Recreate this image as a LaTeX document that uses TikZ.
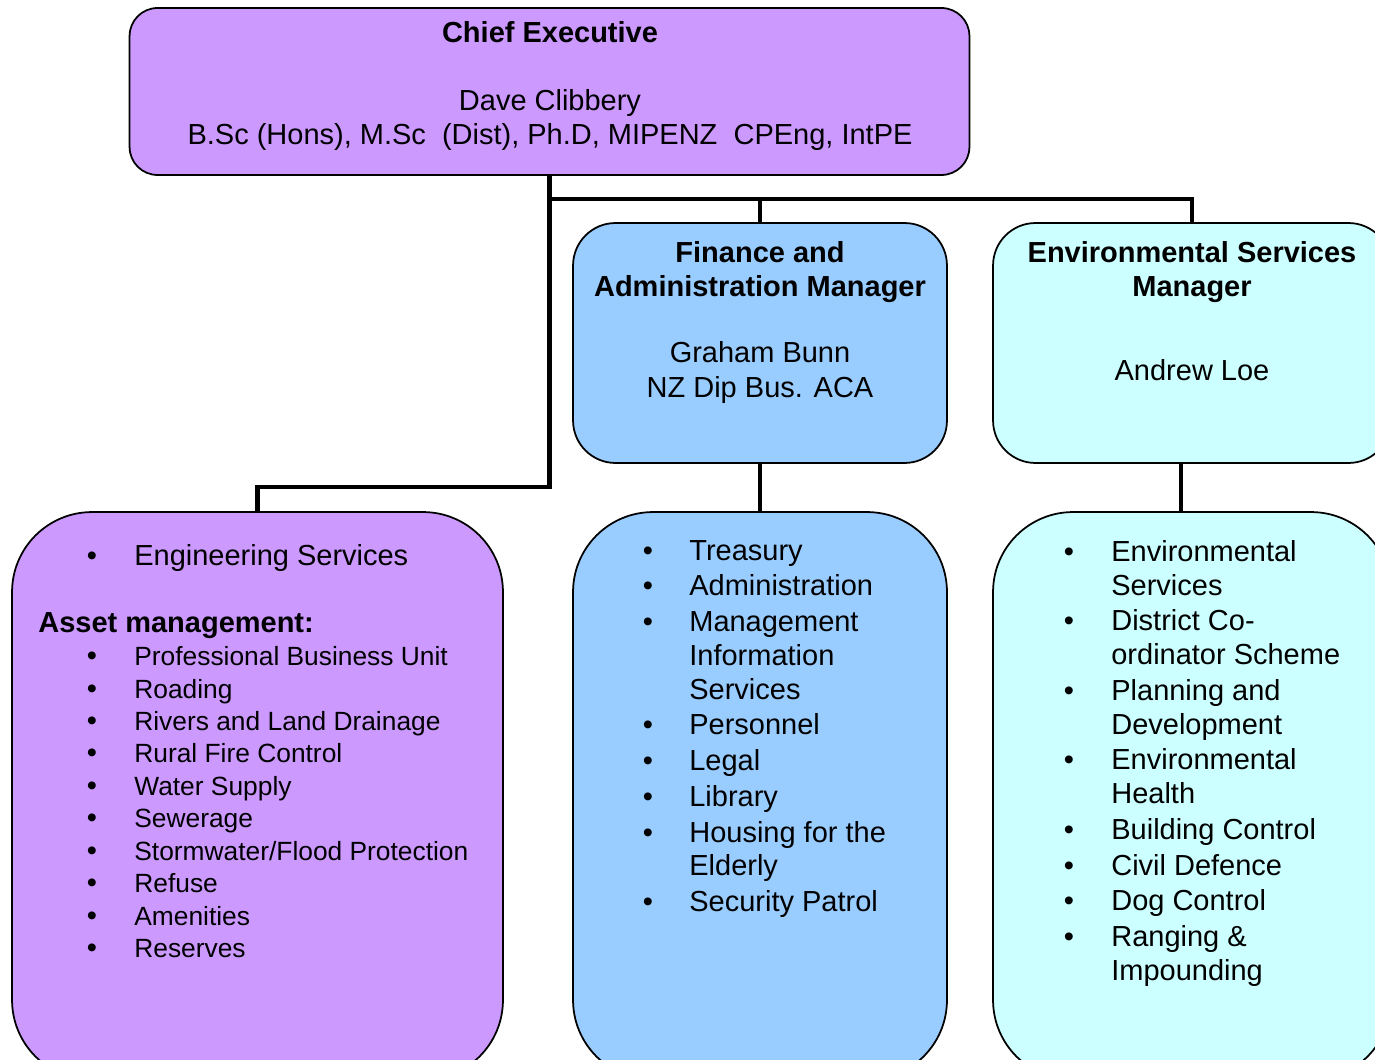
\documentclass[tikz,border=0pt]{standalone}
\usepackage{fontspec}
\setmainfont{Liberation Sans}
\definecolor{cepurple}{HTML}{CC99FF}
\definecolor{finblue}{HTML}{99CCFF}
\definecolor{envcyan}{HTML}{CCFFFF}

\begin{document}
\begin{tikzpicture}[x=0.02cm,y=-0.02cm,
  box/.style={draw=black,line width=1pt,inner sep=0pt},
  link/.style={line width=2.8pt},
  hd/.style={font=\bfseries\fontsize{16.5}{19.35}\selectfont,anchor=base,inner sep=0pt},
  nm/.style={font=\fontsize{16.5}{19.35}\selectfont,anchor=base,inner sep=0pt},
  it/.style={font=\fontsize{16.5}{19.35}\selectfont,anchor=base west,inner sep=0pt},
  sm/.style={font=\fontsize{15}{18}\selectfont,anchor=base west,inner sep=0pt},
  dot/.style={font=\fontsize{16.5}{19.35}\selectfont,anchor=base,inner sep=0pt}]
\useasboundingbox (0,0) rectangle (1375,1060);

\node[box,fill=cepurple,rounded corners=0.56cm,minimum width=16.8cm,minimum height=3.34cm] (ce) at (549.5,91.5) {};
\node[box,fill=finblue,rounded corners=0.85cm,minimum width=7.48cm,minimum height=4.8cm] (fam) at (760,343) {};
\node[box,fill=envcyan,rounded corners=0.85cm,minimum width=7.96cm,minimum height=4.8cm] (esm) at (1192,343) {};
\node[box,fill=cepurple,rounded corners=1.6cm,minimum width=9.82cm,minimum height=11.36cm] (eng) at (257.5,796) {};
\node[box,fill=finblue,rounded corners=1.6cm,minimum width=7.48cm,minimum height=11.36cm] (fin) at (760,796) {};
\node[box,fill=envcyan,rounded corners=1.6cm,minimum width=7.96cm,minimum height=11.36cm] (env) at (1192,796) {};

\coordinate (bendeng) at (ce.south |- 0,487);
\coordinate (bus) at (ce.south |- 0,199);
\draw[link] (ce.south) -- (bendeng) -| (eng.north);
\draw[link] (bus) -| (fam.north);
\draw[link] (bus) -| (esm.north);
\draw[link] (fam.south) -- (fin.north);
\draw[link] ([xshift=-0.22cm]esm.south) -- ([xshift=-0.22cm]env.north);

\node[hd] (cetitle) at (550,43) {Chief Executive};
\node[nm] (cename) at (550,111) {Dave Clibbery};
\node[nm] (cequal) at (550,145) {B.Sc (Hons), M.Sc\ \ (Dist), Ph.D, MIPENZ\ \ CPEng, IntPE};

\node[hd] (famtitle) at (760,263) {Finance and};
\node[hd] (famtitleb) at (760,297) {Administration Manager};
\node[nm] (famname) at (760,363) {Graham Bunn};
\node[nm] (famqual) at (760,398) {NZ Dip Bus. ACA};

\node[hd] (esmtitle) at (1192,263) {Environmental Services};
\node[hd] (esmtitleb) at (1192,297) {Manager};
\node[nm] (esmname) at (1192,381) {Andrew Loe};

\node[dot] (engb0) at (92,565) {\textbullet};
\node[it] (eng0) at (134,565) {Engineering Services};
\node[hd,anchor=base west] (asset) at (38,632) {Asset management:};
\foreach \y/\t [count=\i] in {665/Professional Business Unit,698/Roading,730/Rivers and Land Drainage,762/Rural Fire Control,795/Water Supply,827/Sewerage,860/Stormwater\slash Flood Protection,892/Refuse,925/Amenities,957/Reserves}{
  \node[dot] (engb\i) at (92,\y) {\textbullet};
  \node[sm] (eng\i) at (134,\y) {\t};
}

\foreach \y/\t [count=\i] in {560/Treasury,595/Administration,631/Management,665/Information,699/Services,734/Personnel,770/Legal,806/Library,842/Housing for the,875/Elderly,911/Security Patrol}
  \node[it] (fin\i) at (689,\y) {\t};
\foreach \y [count=\i] in {560,595,631,734,770,806,842,911}
  \node[dot] (finb\i) at (648,\y) {\textbullet};

\foreach \y/\t [count=\i] in {561/Environmental,595/Services,630/District Co-,664/ordinator Scheme,700/Planning and,734/Development,769/Environmental,803/Health,839/Building Control,875/Civil Defence,910/Dog Control,946/Ranging \&,980/Impounding}
  \node[it] (env\i) at (1111,\y) {\t};
\foreach \y [count=\i] in {561,630,700,769,839,875,910,946}
  \node[dot] (envb\i) at (1069,\y) {\textbullet};
\end{tikzpicture}
\end{document}
